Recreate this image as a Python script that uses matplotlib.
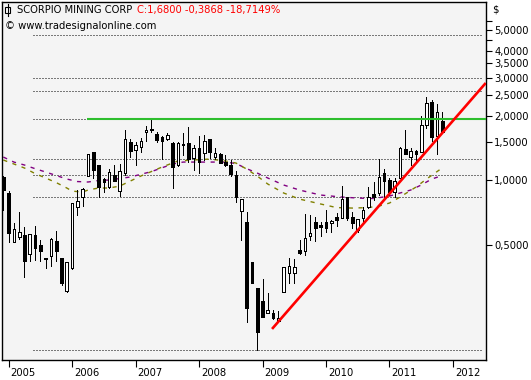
import matplotlib
matplotlib.use("Agg")
import matplotlib.pyplot as plt
import matplotlib.transforms as mtransforms
from matplotlib.lines import Line2D
from matplotlib.patches import Rectangle
from matplotlib.ticker import FixedLocator, FuncFormatter, NullFormatter

# monthly bars, index 0 = Dec 2004 ... index 83 = Nov 2011
opens = [1.033, 0.870, 0.514, 0.542, 0.554, 0.452, 0.554, 0.497, 0.433, 0.442,
         0.519, 0.433, 0.304, 0.388, 0.748, 0.833, 1.044, 1.351, 1.175, 1.011,
         0.927, 1.055, 0.888, 1.078, 1.504, 1.380, 1.426, 1.675, 1.730, 1.639,
         1.587, 1.553, 1.488, 1.175, 1.472, 1.488, 1.267, 1.411, 1.337, 1.553,
         1.280, 1.322, 1.213, 1.175, 1.055, 0.717, 0.637, 0.414, 0.313, 0.272,
         0.240, 0.240, 0.220, 0.300, 0.368, 0.368, 0.471, 0.466, 0.548, 0.637,
         0.617, 0.637, 0.630, 0.672, 0.665, 0.833, 0.672, 0.584, 0.665, 0.748,
         0.860, 0.870, 1.078, 1.000, 0.879, 1.022, 1.396, 1.280, 1.366, 1.351,
         1.806, 2.312, 1.600, 1.885]
highs = [1.044, 0.888, 0.630, 0.709, 0.604, 0.560, 0.610, 0.525, 0.433, 0.536,
         0.578, 0.433, 0.414, 0.781, 0.898, 0.918, 1.322, 1.351, 1.175, 1.022,
         1.125, 1.175, 1.188, 1.711, 1.553, 1.504, 1.570, 1.787, 1.926, 1.675,
         1.604, 1.657, 1.504, 1.504, 1.657, 1.768, 1.456, 1.604, 1.622, 1.553,
         1.411, 1.337, 1.308, 1.240, 1.101, 0.815, 0.709, 0.414, 0.313, 0.345,
         0.297, 0.248, 0.245, 0.393, 0.433, 0.428, 0.525, 0.694, 0.687, 0.672,
         0.637, 0.724, 0.651, 0.701, 0.937, 0.833, 0.709, 0.658, 0.748, 0.927,
         0.979, 1.253, 1.125, 1.022, 1.022, 1.426, 1.711, 1.411, 1.380, 1.989,
         2.440, 2.362, 2.263, 2.077]
lows = [0.724, 0.514, 0.514, 0.530, 0.353, 0.419, 0.423, 0.419, 0.388, 0.397,
        0.419, 0.323, 0.300, 0.384, 0.687, 0.756, 1.044, 1.022, 0.833, 0.879,
        0.918, 0.989, 0.842, 1.055, 1.280, 1.175, 1.351, 1.520, 1.675, 1.504,
        1.253, 1.537, 0.918, 1.162, 1.308, 1.213, 1.113, 1.078, 1.240, 1.267,
        1.253, 1.200, 1.162, 1.044, 0.789, 0.525, 0.218, 0.331, 0.161, 0.229,
        0.240, 0.225, 0.218, 0.300, 0.331, 0.331, 0.452, 0.447, 0.525, 0.519,
        0.548, 0.572, 0.572, 0.610, 0.665, 0.651, 0.597, 0.572, 0.637, 0.740,
        0.807, 0.851, 0.833, 0.851, 0.833, 1.022, 1.322, 1.175, 1.227, 1.351,
        1.750, 1.520, 1.322, 1.680]
closes = [0.898, 0.566, 0.591, 0.572, 0.419, 0.560, 0.482, 0.466, 0.428, 0.530,
          0.466, 0.331, 0.414, 0.781, 0.798, 0.908, 1.322, 1.113, 0.927, 0.979,
          1.090, 0.989, 1.101, 1.553, 1.366, 1.456, 1.520, 1.711, 1.711, 1.537,
          1.520, 1.622, 1.150, 1.488, 1.456, 1.253, 1.411, 1.213, 1.520, 1.351,
          1.337, 1.200, 1.175, 1.067, 0.833, 0.815, 0.253, 0.331, 0.195, 0.229,
          0.248, 0.227, 0.227, 0.393, 0.397, 0.393, 0.456, 0.536, 0.566, 0.597,
          0.604, 0.597, 0.644, 0.651, 0.815, 0.665, 0.630, 0.658, 0.724, 0.833,
          0.833, 1.033, 0.989, 0.879, 0.989, 1.411, 1.322, 1.366, 1.322, 1.806,
          2.288, 1.587, 2.067, 1.680]

# moving averages (month index, price)
ma_slow_x = [0, 2, 4, 6, 8, 10, 12, 14, 16, 18, 20, 24, 28, 32, 34, 38, 42, 44, 46,
             48, 50, 53, 56, 60, 64, 67, 70, 73, 75, 77, 79, 81, 83]
ma_slow_y = [1.28, 1.213, 1.175, 1.13, 1.09, 1.05, 1.011, 0.984, 0.979, 0.995, 1.0,
             1.033, 1.095, 1.188, 1.213, 1.213, 1.213, 1.194, 1.13, 1.078, 1.022,
             0.948, 0.898, 0.851, 0.833, 0.824, 0.82, 0.842, 0.870, 0.898, 0.948,
             1.011, 1.05]
ma_fast_x = [0, 2, 4, 6, 8, 10, 12, 13, 15, 16, 18, 20, 22, 26, 30, 33, 36, 39, 42,
             44, 46, 48, 50, 53, 56, 60, 63, 66, 69, 71, 73, 75, 78, 80, 83]
ma_fast_y = [1.24, 1.188, 1.138, 1.072, 1.022, 0.973, 0.918, 0.888, 0.879, 0.898,
             0.918, 0.918, 0.937, 1.044, 1.150, 1.227, 1.240, 1.253, 1.227, 1.200,
             1.125, 1.044, 0.958, 0.870, 0.815, 0.773, 0.744, 0.740, 0.744, 0.756,
             0.781, 0.833, 0.927, 1.011, 1.14]

# drawn lines
levels = [4.75, 2.99, 2.60, 1.93, 1.25, 1.055, 0.833, 0.161]
green_level = 1.93
green_start = 15.8
trend_x = [50.8, 91.2]
trend_y = [0.202, 2.836]

year_pos = [1, 13, 25, 37, 49, 61, 73, 85]
year_labels = ["2005", "2006", "2007", "2008", "2009", "2010", "2011", "2012"]
price_ticks = [0.5, 1.0, 1.5, 2.0, 2.5, 3.0, 3.5, 4.0, 5.0]
price_minor = [4.5, 5.5]

W, H = 531, 380
fig = plt.figure(figsize=(W / 100, H / 100), dpi=100)
fig.patch.set_facecolor("white")
ax = fig.add_axes([2 / W, 20 / H, 484 / W, 358 / H])
ax.set_facecolor("#f4f4f4")
ax.set_yscale("log")
ax.set_xlim(-0.25, 91.25)
ax.set_ylim(0.1447, 6.77)

for s in ax.spines.values():
    s.set_linewidth(1.0)
    s.set_color("black")

# dotted levels
ax.hlines(levels, 5.6, 90.6, colors="black", linestyles=(0, (1, 2)), lw=0.72, zorder=1)

# moving averages
ax.plot(ma_slow_x, ma_slow_y, color="#800080", lw=1.0, ls=(0, (3, 4)), zorder=2)
ax.plot(ma_fast_x, ma_fast_y, color="#808000", lw=1.0, ls=(0, (3, 4)), zorder=2)

# candles
n = len(opens)
idx = list(range(n))
ax.vlines(idx, lows, highs, colors="black", lw=0.72, zorder=3, antialiased=False)
bottoms = [min(o, c) for o, c in zip(opens, closes)]
heights = [max(abs(c - o), 0.004 * min(o, c)) for o, c in zip(opens, closes)]
faces = ["white" if c >= o else "black" for o, c in zip(opens, closes)]
ax.bar(idx, heights, bottom=bottoms, width=0.5, color=faces, edgecolor="black",
       linewidth=0.72, zorder=4, antialiased=False)

# green resistance and red trend line
ax.hlines(green_level, green_start, 91.25, colors="#2dbe2d", lw=1.5, zorder=5)
ax.plot(trend_x, trend_y, color="red", lw=1.9, zorder=6, solid_capstyle="butt")

# axes: right price scale
ax.yaxis.tick_right()
ax.yaxis.set_major_locator(FixedLocator(price_ticks))
ax.yaxis.set_minor_locator(FixedLocator(price_minor))
ax.yaxis.set_major_formatter(FuncFormatter(lambda v, p: ("%.4f" % v).replace(".", ",")))
ax.yaxis.set_minor_formatter(NullFormatter())
ax.tick_params(axis="y", which="both", direction="out", length=4, width=0.8,
               pad=2, labelsize=7.2, colors="black", right=True, left=False)

ax.xaxis.set_major_locator(FixedLocator(year_pos))
ax.set_xticklabels(year_labels)
ax.xaxis.set_minor_locator(FixedLocator([]))
ax.tick_params(axis="x", which="major", direction="out", length=5, width=0.8,
               pad=1, labelsize=7.2, colors="black")
offset = mtransforms.ScaledTranslation(2 / 100, 0, fig.dpi_scale_trans)
for lab in ax.get_xticklabels():
    lab.set_horizontalalignment("left")
    lab.set_transform(lab.get_transform() + offset)

fig.text(492 / W, 1 - 9 / H, "$", fontsize=7.2, va="center", ha="left")

# header
fig.add_artist(Line2D([7.5 / W, 7.5 / W], [1 - 4 / H, 1 - 16 / H], color="black",
                      lw=0.8, transform=fig.transFigure))
fig.add_artist(Rectangle((5 / W, 1 - 13 / H), 5 / W, 6 / H, facecolor="white",
                         edgecolor="black", lw=0.8, transform=fig.transFigure))
fig.text(17 / W, 1 - 10 / H, "SCORPIO MINING CORP", fontsize=7.2, va="center", ha="left")
fig.text(137 / W, 1 - 10 / H, "C:1,6800 -0,3868 -18,7149%", fontsize=7.2,
         va="center", ha="left", color="#ff0000")
fig.text(5 / W, 1 - 26 / H, "\u00a9 www.tradesignalonline.com", fontsize=7.2,
         va="center", ha="left")

fig.savefig("out.png", dpi=100)
